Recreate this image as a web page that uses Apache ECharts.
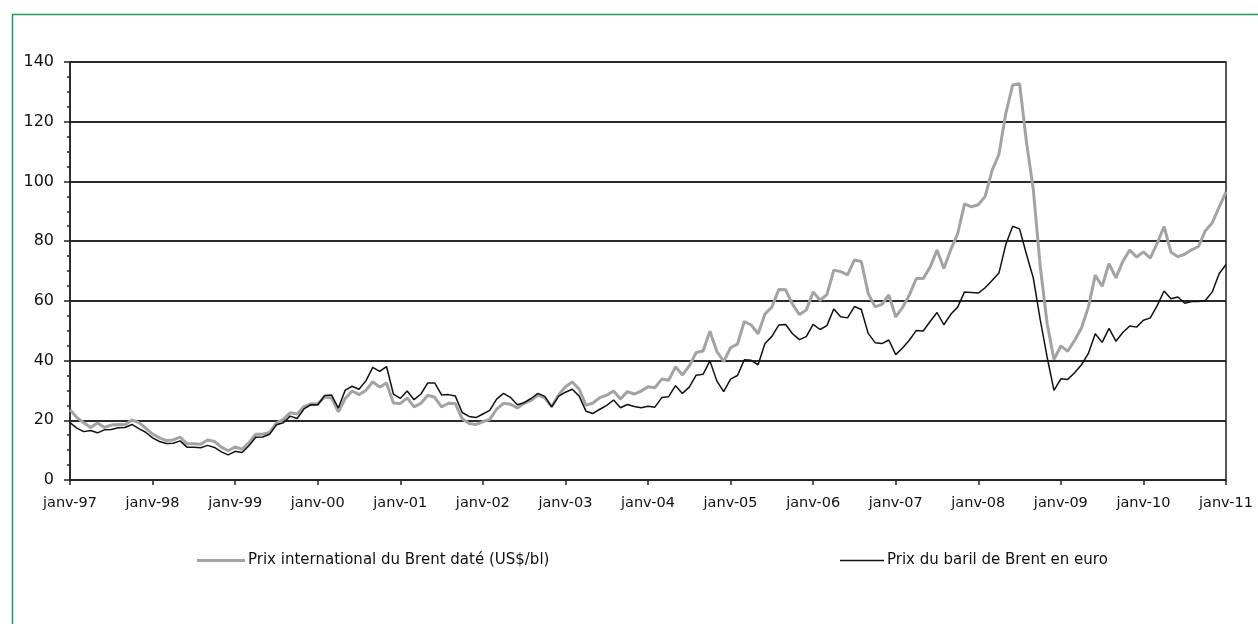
<!DOCTYPE html>
<html lang="fr" style="height: 100%">
<head>
  <meta charset="utf-8">
  <script src="https://cdn.jsdelivr.net/npm/echarts@6/dist/echarts.min.js"></script>
</head>
<body style="height: 100%; margin: 0; background: #fff">
  <div id="container" style="width: 1258px; height: 624px"></div>

  <script type="text/javascript">
    // libellés des mois, janv-97 -> janv-11
    var moisNoms = ['janv', 'févr', 'mars', 'avr', 'mai', 'juin', 'juil', 'août', 'sept', 'oct', 'nov', 'déc'];
    var annees = ['97', '98', '99', '00', '01', '02', '03', '04', '05', '06', '07', '08', '09', '10', '11'];

    var nomUsd = 'Prix international du Brent daté (US$/bl)';
    var nomEuro = 'Prix du baril de Brent en euro';

    // prettier-ignore
    var brentUsd = [
      23.5, 20.9, 19.2, 17.6, 19.1, 17.6, 18.4, 18.6, 18.5, 20.1, 19.2, 17.4,
      15.4, 14.1, 13.2, 13.4, 14.4, 12.1, 12.1, 12.0, 13.4, 12.9, 11.0, 9.8,
      11.1, 10.3, 12.5, 15.3, 15.3, 15.9, 19.1, 20.3, 22.5, 22.1, 24.6, 25.5,
      25.5, 27.8, 27.5, 22.8, 27.3, 29.8, 28.6, 30.0, 32.9, 31.1, 32.5, 25.8,
      25.6, 27.5, 24.5, 25.7, 28.4, 27.7, 24.5, 25.7, 25.6, 20.5, 18.9, 18.6,
      19.5, 20.3, 23.7, 25.7, 25.4, 24.1, 25.7, 26.7, 28.4, 27.5, 24.5, 28.5,
      31.2, 32.8, 30.4, 25.0, 25.8, 27.6, 28.4, 29.8, 27.1, 29.6, 28.8, 29.8,
      31.2, 30.9, 33.8, 33.4, 37.9, 35.2, 38.2, 42.7, 43.2, 49.8, 43.1, 39.7,
      44.3, 45.5, 53.1, 51.9, 49.0, 55.6, 57.9, 63.8, 63.7, 58.9, 55.4, 56.9,
      63.0, 60.2, 62.1, 70.3, 69.8, 68.7, 73.7, 73.2, 62.5, 58.0, 58.8, 62.0,
      54.6, 57.8, 62.1, 67.5, 67.5, 71.3, 77.0, 70.8, 77.2, 82.4, 92.5, 91.5,
      92.2, 95.0, 103.6, 109.1, 122.8, 132.3, 132.7, 113.2, 97.2, 71.6, 52.5, 40.4,
      44.9, 43.1, 46.8, 50.9, 57.9, 68.6, 64.9, 72.5, 67.7, 73.2, 77.0, 74.7,
      76.4, 74.3, 79.3, 84.9, 76.3, 74.8, 75.6, 77.1, 78.2, 83.5, 86.1, 91.4,
      96.5
    ];

    // prettier-ignore
    var brentEuro = [
      19.2, 17.4, 16.2, 16.6, 15.8, 16.8, 16.9, 17.5, 17.6, 18.6, 17.2, 16.0,
      14.1, 12.9, 12.2, 12.3, 13.1, 11.0, 11.0, 10.8, 11.6, 10.9, 9.4, 8.4,
      9.6, 9.2, 11.5, 14.3, 14.4, 15.3, 18.5, 19.2, 21.4, 20.6, 23.8, 25.2,
      25.1, 28.3, 28.5, 24.1, 30.1, 31.4, 30.4, 33.2, 37.7, 36.4, 38.0, 28.8,
      27.3, 29.8, 26.9, 28.8, 32.5, 32.5, 28.5, 28.6, 28.1, 22.6, 21.3, 20.9,
      22.1, 23.3, 27.1, 29.0, 27.7, 25.2, 25.9, 27.3, 29.0, 28.0, 24.5, 28.0,
      29.4, 30.4, 28.1, 23.0, 22.3, 23.7, 25.0, 26.8, 24.2, 25.3, 24.6, 24.2,
      24.7, 24.4, 27.6, 27.9, 31.6, 29.0, 31.1, 35.1, 35.4, 39.9, 33.2, 29.6,
      33.8, 35.0, 40.3, 40.1, 38.6, 45.7, 48.1, 51.9, 52.1, 49.0, 47.0, 48.0,
      52.1, 50.4, 51.7, 57.3, 54.7, 54.3, 58.1, 57.1, 49.1, 46.0, 45.7, 46.9,
      42.0, 44.2, 46.9, 50.1, 49.9, 53.1, 56.1, 52.0, 55.5, 57.9, 63.0, 62.8,
      62.6, 64.4, 66.8, 69.3, 78.9, 85.0, 84.1, 75.6, 67.6, 53.7, 41.2, 30.0,
      33.9, 33.7, 35.9, 38.6, 42.4, 49.0, 46.1, 50.8, 46.5, 49.4, 51.6, 51.2,
      53.5, 54.3, 58.4, 63.3, 60.7, 61.3, 59.2, 59.8, 59.8, 60.1, 63.0, 69.1,
      72.2
    ];

    var categories = [];
    for (var a = 0; a < annees.length; a++) {
      for (var m = 0; m < 12; m++) {
        if (a === annees.length - 1 && m > 0) break;
        categories.push(moisNoms[m] + '-' + annees[a]);
      }
    }

    var dom = document.getElementById('container');
    var myChart = echarts.init(dom, null, { renderer: 'canvas' });

    var police = '"DejaVu Sans", Arial, sans-serif';

    var option = {
      animation: false,
      backgroundColor: '#fff',
      graphic: [
        {
          type: 'rect',
          shape: { x: 12.5, y: 14.5, width: 1400, height: 800 },
          style: { fill: 'none', stroke: '#1f9a4c', lineWidth: 1.5 },
          silent: true
        }
      ],
      grid: {
        left: 70,
        right: 32,
        top: 62,
        bottom: 144,
        show: true,
        borderColor: '#222',
        borderWidth: 1.5
      },
      legend: [
        {
          data: [nomUsd],
          left: 197,
          top: 553,
          padding: 0,
          icon: 'rect',
          itemWidth: 48,
          itemHeight: 3,
          textStyle: { fontFamily: police, fontSize: 15, color: '#111', padding: [0, 0, 0, -2] }
        },
        {
          data: [nomEuro],
          left: 840,
          top: 553,
          padding: 0,
          icon: 'rect',
          itemWidth: 44,
          itemHeight: 1.5,
          textStyle: { fontFamily: police, fontSize: 15, color: '#111', padding: [0, 0, 0, -2] }
        }
      ],
      xAxis: {
        type: 'category',
        data: categories,
        boundaryGap: false,
        axisLine: { lineStyle: { color: '#222', width: 1.5 } },
        axisTick: { interval: 11, length: 5, lineStyle: { color: '#222', width: 1.5 } },
        axisLabel: {
          interval: 11,
          margin: 16,
          fontFamily: police,
          fontSize: 14.5,
          color: '#111'
        },
        splitLine: { show: false }
      },
      yAxis: {
        type: 'value',
        min: 0,
        max: 140,
        interval: 20,
        axisLine: { show: true, lineStyle: { color: '#222', width: 1.5 } },
        axisTick: { show: true, length: 6, lineStyle: { color: '#222', width: 1.5 } },
        minorTick: { show: true, splitNumber: 4, length: 3, lineStyle: { color: '#222', width: 1.5 } },
        axisLabel: {
          margin: 16,
          fontFamily: police,
          fontSize: 16,
          color: '#111'
        },
        splitLine: { lineStyle: { color: '#2a2a2a', width: 2 } }
      },
      series: [
        {
          name: nomUsd,
          type: 'line',
          data: brentUsd,
          symbol: 'none',
          itemStyle: { color: '#a3a3a3' },
          lineStyle: { color: '#a3a3a3', width: 3 }
        },
        {
          name: nomEuro,
          type: 'line',
          data: brentEuro,
          symbol: 'none',
          itemStyle: { color: '#111' },
          lineStyle: { color: '#111', width: 1.5 }
        }
      ]
    };

    myChart.setOption(option);
    window.addEventListener('resize', myChart.resize);
  </script>
</body>
</html>
